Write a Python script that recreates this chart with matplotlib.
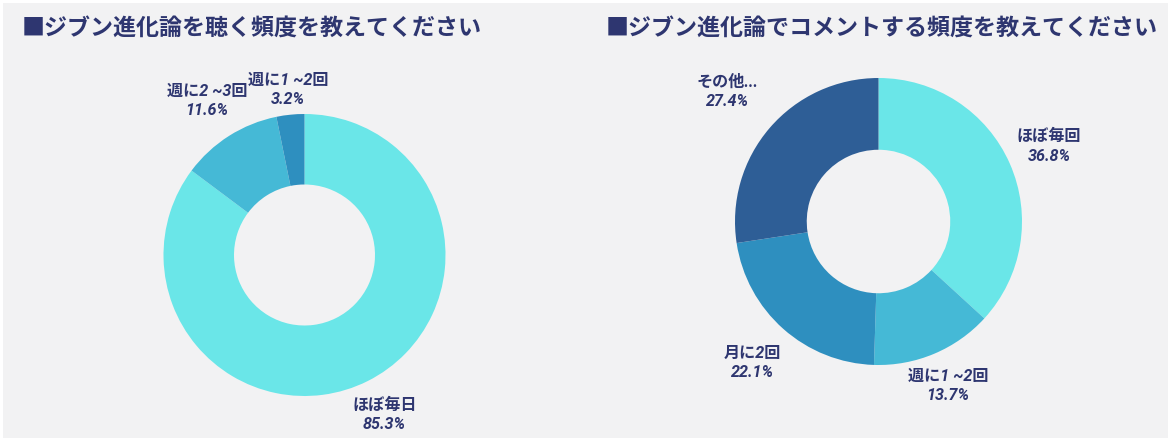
import matplotlib
matplotlib.use("Agg")
import numpy as np
import matplotlib.pyplot as plt
from matplotlib.patches import Rectangle

plt.rcParams['font.family'] = ['Noto Sans CJK JP', 'DejaVu Sans']

# ---- data ----
title1 = "■ジブン進化論を聴く頻度を教えてください"
labels1 = ["ほぼ毎日", "週に2 ~3回", "週に1 ~2回"]
values1 = [85.3, 11.6, 3.2]

title2 = "■ジブン進化論でコメントする頻度を教えてください"
labels2 = ["ほぼ毎回", "週に1 ~2回", "月に2回", "その他..."]
values2 = [36.8, 13.7, 22.1, 27.4]

colors1 = ["#6ae6e8", "#45b9d6", "#2e8fbf"]
colors2 = ["#6ae6e8", "#45b9d6", "#2e8fbf", "#2e5e96"]

# ---- layout (label distances as fraction of outer radius) ----
dist1 = [1.266, 1.293, 1.177]
dist2 = [1.30, 1.245, 1.32, 1.39]

W, H = 1171, 441
BG = "#f2f2f3"
TXT = "#2e3670"

fig = plt.figure(figsize=(W / 100, H / 100), dpi=100, facecolor="white")
fig.patches.append(Rectangle((3 / W, 3 / H), (W - 6) / W, (H - 6) / H,
                             transform=fig.transFigure, facecolor=BG,
                             edgecolor="none", zorder=-10))

label_font = dict(family=['Roboto', 'Noto Sans CJK JP'], size=11.6,
                  weight='bold', style='italic', color=TXT)


def donut(cx, cy, R, labels, values, colors, dists):
    k = 1.6
    side = 2 * k * R
    ax = fig.add_axes([(cx - side / 2) / W, ((H - cy) - side / 2) / H,
                       side / W, side / H])
    ax.set_facecolor("none")
    wedges, _ = ax.pie(values, colors=colors, startangle=90,
                       counterclock=False, radius=1,
                       wedgeprops=dict(width=0.5, linewidth=0))
    for w, l, v, d in zip(wedges, labels, values, dists):
        ang = np.deg2rad((w.theta1 + w.theta2) / 2)
        ax.text(d * np.cos(ang), d * np.sin(ang), f"{l}\n{v:.1f}%",
                ha="center", va="center", multialignment="center",
                linespacing=1.35, clip_on=False, **label_font)
    ax.set_xlim(-k, k)
    ax.set_ylim(-k, k)
    ax.set_aspect("equal")
    ax.axis("off")
    return ax


donut(304.5, 255, 141, labels1, values1, colors1, dist1)
donut(878.5, 221.5, 143.5, labels2, values2, colors2, dist2)

fig.text(22 / W, 1 - 28 / H, title1, fontsize=16.6, weight='bold',
         color=TXT, ha='left', va='center')
fig.text(606 / W, 1 - 28 / H, title2, fontsize=16.6, weight='bold',
         color=TXT, ha='left', va='center')

fig.savefig("out.png", dpi=100, facecolor=fig.get_facecolor())
